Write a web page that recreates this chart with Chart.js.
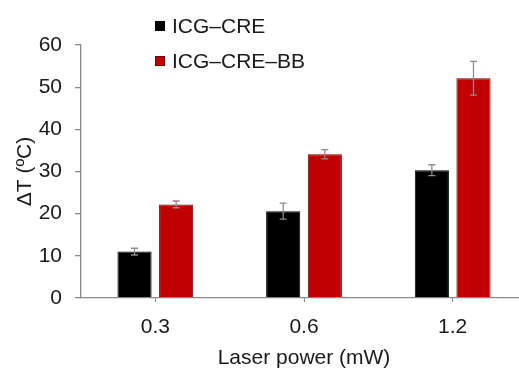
<!DOCTYPE html>
<html>
<head>
<meta charset="utf-8">
<script src="https://cdn.jsdelivr.net/npm/chart.js@4.4.0/dist/chart.umd.min.js"></script>
<style>
  html, body { margin: 0; padding: 0; background: #fff; overflow: hidden; }
  #wrap { position: relative; width: 519px; height: 368px; overflow: hidden; }
  #legend { position: absolute; left: 155px; top: 14px; font-family: "Liberation Sans", Arial, sans-serif; font-size: 21px; color: #1a1a1a; }
  #legend div { height: 35px; line-height: 24px; white-space: nowrap; }
  #legend span.box { display: inline-block; width: 10px; height: 10px; margin-right: 7px; vertical-align: 2px; box-sizing: border-box; }
</style>
</head>
<body>
<div id="wrap">
  <canvas id="heatChart" width="528" height="368"></canvas>
  <div id="legend"></div>
</div>
<script>
var categories = ["0.3", "0.6", "1.2"];
var seriesNames = ["ICG\u2013CRE", "ICG\u2013CRE\u2013BB"];
var creValues = [11.0, 20.6, 30.3];
var creErrors = [0.8, 1.9, 1.3];
var bbValues = [22.2, 34.1, 52.1];
var bbErrors = [0.8, 1.1, 4.0];
var yTicks = [0, 10, 20, 30, 40, 50, 60];

var fillColors = ["#000000", "#c00000"];
var edgeColors = ["#000000", "#6e0000"];
var axisGray = "#8a8a8a";
var font = "'Liberation Sans', Arial, sans-serif";

var errorBars = {
    id: "errorBars",
    afterDatasetsDraw: function (chart) {
        var ctx = chart.ctx;
        var yScale = chart.scales.y;
        ctx.save();
        ctx.strokeStyle = "#8c8c8c";
        ctx.lineWidth = 1.3;
        chart.data.datasets.forEach(function (ds, i) {
            var meta = chart.getDatasetMeta(i);
            meta.data.forEach(function (bar, j) {
                var v = ds.data[j], e = ds.errors[j];
                var top = yScale.getPixelForValue(v + e);
                var bot = yScale.getPixelForValue(v - e);
                var x = bar.x;
                ctx.beginPath();
                ctx.moveTo(x, top); ctx.lineTo(x, bot);
                ctx.moveTo(x - 3.5, top); ctx.lineTo(x + 3.5, top);
                ctx.moveTo(x - 3.5, bot); ctx.lineTo(x + 3.5, bot);
                ctx.stroke();
            });
        });
        ctx.restore();
    }
};

var config = {
    type: "bar",
    data: {
        labels: categories,
        datasets: [{
            label: seriesNames[0],
            data: creValues,
            errors: creErrors,
            backgroundColor: fillColors[0],
            borderColor: edgeColors[0],
            borderWidth: 1
        }, {
            label: seriesNames[1],
            data: bbValues,
            errors: bbErrors,
            backgroundColor: fillColors[1],
            borderColor: edgeColors[1],
            borderWidth: 1
        }]
    },
    options: {
        responsive: false,
        animation: false,
        devicePixelRatio: 1,
        categoryPercentage: 0.56,
        barPercentage: 0.82,
        layout: { padding: { top: 45, right: 1, left: 0, bottom: 0 } },
        plugins: {
            legend: { display: false },
            tooltip: { enabled: false }
        },
        scales: {
            x: {
                grid: { offset: false, drawOnChartArea: false, color: axisGray, tickLength: 4, lineWidth: 1 },
                border: { color: axisGray, width: 1.3 },
                ticks: { color: "#1a1a1a", font: { family: font, size: 21 }, padding: 13 },
                title: { display: true, text: "Laser power (mW)", color: "#1a1a1a", font: { family: font, size: 21 }, padding: { top: 2, bottom: -3 } },
                afterFit: function (scale) { scale.height = 70; }
            },
            y: {
                min: 0,
                max: 60,
                afterBuildTicks: function (scale) {
                    scale.ticks = yTicks.map(function (v) { return { value: v }; });
                },
                grid: { drawOnChartArea: false, color: axisGray, tickLength: 6, lineWidth: 1.3 },
                border: { color: axisGray, width: 1.3 },
                ticks: { color: "#1a1a1a", font: { family: font, size: 21 }, padding: 13 },
                title: { display: true, text: "\u0394T (\u00baC)", color: "#1a1a1a", font: { family: font, size: 21 }, padding: { top: 13, bottom: 0 } },
                afterFit: function (scale) { scale.width = 81; }
            }
        }
    },
    plugins: [errorBars]
};

var heatChart = new Chart(document.getElementById("heatChart"), config);

var legendEl = document.getElementById("legend");
seriesNames.forEach(function (name, i) {
    var row = document.createElement("div");
    var box = document.createElement("span");
    box.className = "box";
    box.style.background = fillColors[i];
    box.style.border = "1px solid " + edgeColors[i];
    row.appendChild(box);
    row.appendChild(document.createTextNode(name));
    legendEl.appendChild(row);
});
</script>
</body>
</html>
